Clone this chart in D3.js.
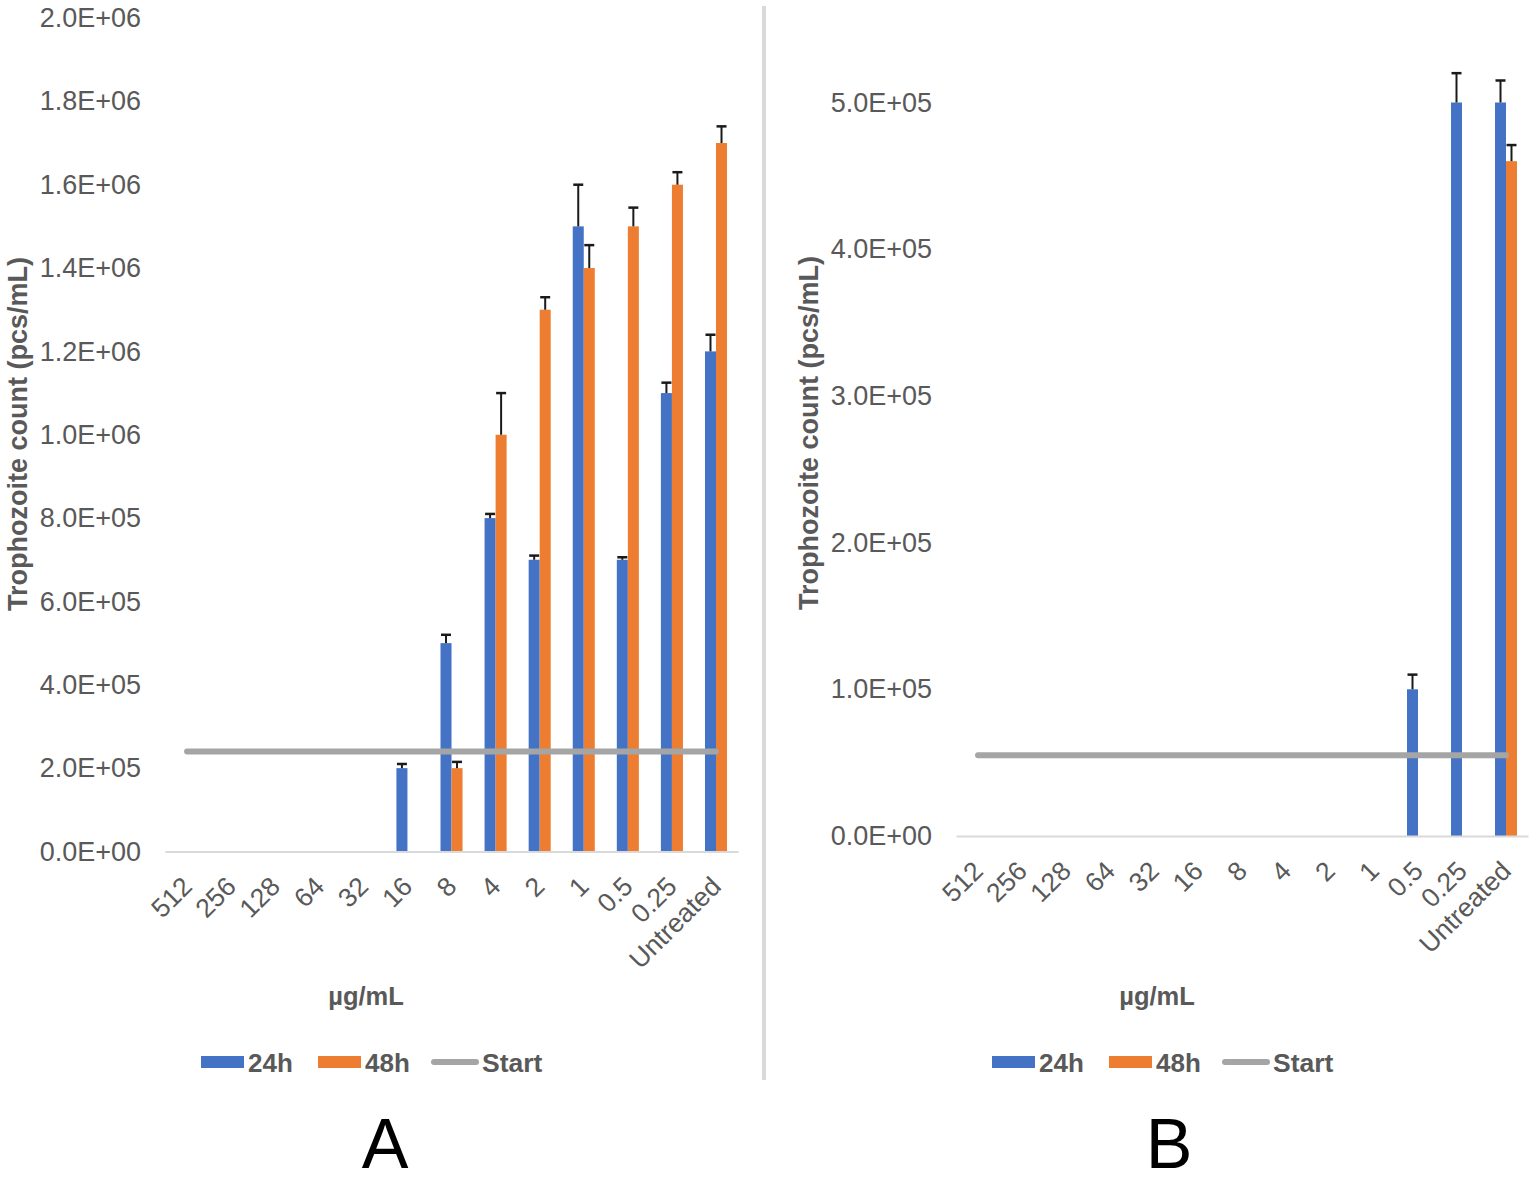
<!DOCTYPE html>
<html>
<head>
<meta charset="utf-8">
<script src="https://cdn.jsdelivr.net/npm/d3@7"></script>
<style>
  html, body { margin: 0; padding: 0; background: #fff; }
  svg { display: block; font-family: "Liberation Sans", Arial, sans-serif; }
</style>
</head>
<body>
<svg id="chart" width="1536" height="1183"></svg>
<script>
// ---- Data ----
const categories = ["512","256","128","64","32","16","8","4","2","1","0.5","0.25","Untreated"];
const seriesNames = ["24h","48h"];

// Panel A
const a24    = [0,0,0,0,0,2.0e5,5.0e5,8.0e5,7.0e5,1.5e6,7.0e5,1.1e6,1.2e6];
const a24Err = [0,0,0,0,0,1.0e4,2.0e4,1.0e4,1.0e4,1.0e5,6.0e3,2.5e4,4.0e4];
const a48    = [0,0,0,0,0,0,2.0e5,1.0e6,1.3e6,1.4e6,1.5e6,1.6e6,1.7e6];
const a48Err = [0,0,0,0,0,0,1.5e4,1.0e5,3.0e4,5.5e4,4.5e4,3.0e4,4.0e4];
const aStart = 2.4e5;
const aTicks = [0,2e5,4e5,6e5,8e5,1.0e6,1.2e6,1.4e6,1.6e6,1.8e6,2.0e6];

// Panel B
const b24    = [0,0,0,0,0,0,0,0,0,0,1.0e5,5.0e5,5.0e5];
const b24Err = [0,0,0,0,0,0,0,0,0,0,1.0e4,2.0e4,1.5e4];
const b48    = [0,0,0,0,0,0,0,0,0,0,0,0,4.6e5];
const b48Err = [0,0,0,0,0,0,0,0,0,0,0,0,1.1e4];
const bStart = 5.5e4;
const bTicks = [0,1e5,2e5,3e5,4e5,5e5];

const panelLabels = ["A","B"];
const yTitle = "Trophozoite count (pcs/mL)";
const xTitle = "µg/mL";
const legendNames = ["24h","48h","Start"];

// ---- Style ----
const colors = {"24h":"#4472C4","48h":"#ED7D31"};
const startColor = "#A5A5A5";
const textColor = "#595959";

function fmtE(v){
  if (v === 0) return "0.0E+00";
  let e = Math.floor(Math.log10(Math.abs(v)) + 1e-9);
  let m = v / Math.pow(10, e);
  return m.toFixed(1) + "E" + (e >= 0 ? "+" : "-") + String(Math.abs(e)).padStart(2,"0");
}

const svg = d3.select("#chart");

// divider
svg.append("line").attr("x1",764).attr("x2",764).attr("y1",6).attr("y2",1080)
  .attr("stroke","#D9D9D9").attr("stroke-width",4);

function drawPanel(cfg){
  const g = svg.append("g");
  const x = d3.scaleBand().domain(categories).range([cfg.x0, cfg.x0 + cfg.bw*categories.length]).padding(0);
  const xs = d3.scaleBand().domain(seriesNames).range([x.bandwidth()*0.25, x.bandwidth()*0.75]).padding(0);
  const y = d3.scaleLinear().domain([0, cfg.yMaxVal]).range([cfg.y0, cfg.yTop]);

  // y axis labels
  const ya = d3.axisLeft(y).tickValues(cfg.ticks).tickSize(0).tickPadding(0).tickFormat(fmtE);
  const yg = g.append("g").attr("transform",`translate(${cfg.x0 - 24},0)`).call(ya);
  yg.select(".domain").remove();
  yg.selectAll("text").attr("fill",textColor).style("font-size","27px")
    .style("font-family","'Liberation Sans', Arial, sans-serif");

  // bars
  const rows = categories.map((c,i)=>({c, v24:cfg.s24[i], e24:cfg.e24[i], v48:cfg.s48[i], e48:cfg.e48[i]}));
  const flat = [];
  rows.forEach(r=>{
    flat.push({c:r.c, s:"24h", v:r.v24, e:r.e24});
    flat.push({c:r.c, s:"48h", v:r.v48, e:r.e48});
  });
  const vis = flat.filter(d=>d.v>0);
  g.selectAll("rect.bar").data(vis).join("rect").attr("class","bar")
    .attr("x", d=>x(d.c)+xs(d.s)).attr("width", xs.bandwidth())
    .attr("y", d=>y(d.v)).attr("height", d=>y(0)-y(d.v))
    .attr("fill", d=>colors[d.s]);

  // error bars (plus direction)
  const eb = g.selectAll("g.err").data(vis.filter(d=>d.e>0)).join("g").attr("class","err");
  eb.append("line")
    .attr("x1", d=>x(d.c)+xs(d.s)+xs.bandwidth()/2).attr("x2", d=>x(d.c)+xs(d.s)+xs.bandwidth()/2)
    .attr("y1", d=>y(d.v)).attr("y2", d=>y(d.v+d.e))
    .attr("stroke","#1a1a1a").attr("stroke-width",2);
  eb.append("line")
    .attr("x1", d=>x(d.c)+xs(d.s)+xs.bandwidth()/2-5).attr("x2", d=>x(d.c)+xs(d.s)+xs.bandwidth()/2+5)
    .attr("y1", d=>y(d.v+d.e)).attr("y2", d=>y(d.v+d.e))
    .attr("stroke","#1a1a1a").attr("stroke-width",2.5);

  // x axis
  const xa = d3.axisBottom(x).tickSize(0).tickPadding(0);
  const xg = g.append("g").attr("transform",`translate(0,${cfg.y0})`).call(xa);
  xg.select(".domain").attr("stroke","#D9D9D9").attr("stroke-width",2);
  xg.selectAll(".tick text")
    .attr("fill",textColor).style("font-size","26.5px")
    .style("font-family","'Liberation Sans', Arial, sans-serif")
    .attr("text-anchor","end").attr("dy","0.35em").attr("y",0)
    .attr("transform","translate(0,30) rotate(-45)");

  // start line
  const line = d3.line().x(d=>x(d)+x.bandwidth()/2).y(()=>y(cfg.start));
  g.append("path").datum([categories[0], categories[categories.length-1]])
    .attr("d", line).attr("stroke",startColor).attr("stroke-width",6)
    .attr("stroke-linecap","round").attr("fill","none");

  // axis titles
  g.append("text").attr("transform",`translate(${cfg.x0 - 138},${cfg.yTitleY}) rotate(-90)`)
    .attr("text-anchor","middle").attr("fill",textColor)
    .style("font-size","27px").style("font-weight","bold").text(yTitle);
  g.append("text").attr("x", cfg.x0 + 201).attr("y", 1005)
    .attr("text-anchor","middle").attr("fill",textColor)
    .style("font-size","25.5px").style("font-weight","bold").text(xTitle);

  // legend
  const lx = cfg.x0 + 36, ly = 1062;
  const leg = g.append("g");
  leg.append("rect").attr("x",lx).attr("y",ly-6).attr("width",43).attr("height",12).attr("fill",colors["24h"]);
  leg.append("text").attr("x",lx+47).attr("y",ly+10).attr("fill",textColor)
    .style("font-size","26px").style("font-weight","bold").text(legendNames[0]);
  leg.append("rect").attr("x",lx+117).attr("y",ly-6).attr("width",43).attr("height",12).attr("fill",colors["48h"]);
  leg.append("text").attr("x",lx+164).attr("y",ly+10).attr("fill",textColor)
    .style("font-size","26px").style("font-weight","bold").text(legendNames[1]);
  leg.append("line").attr("x1",lx+233).attr("x2",lx+275).attr("y1",ly).attr("y2",ly)
    .attr("stroke",startColor).attr("stroke-width",6).attr("stroke-linecap","round");
  leg.append("text").attr("x",lx+281).attr("y",ly+10).attr("fill",textColor)
    .style("font-size","26.5px").style("font-weight","bold").text(legendNames[2]);

  // panel label
  g.append("text").attr("x", cfg.labelX).attr("y", 1168).attr("text-anchor","middle")
    .attr("fill","#000").style("font-size","70px").text(cfg.label);
}

drawPanel({x0:165, bw:44.08, y0:851.5, yTop:18, yMaxVal:2.0e6, ticks:aTicks,
  s24:a24, e24:a24Err, s48:a48, e48:a48Err, start:aStart, yTitleY:434, label:panelLabels[0], labelX:385});
drawPanel({x0:956, bw:44, y0:836, yTop:102.5, yMaxVal:5.0e5, ticks:bTicks,
  s24:b24, e24:b24Err, s48:b48, e48:b48Err, start:bStart, yTitleY:433, label:panelLabels[1], labelX:1169});
</script>
</body>
</html>
